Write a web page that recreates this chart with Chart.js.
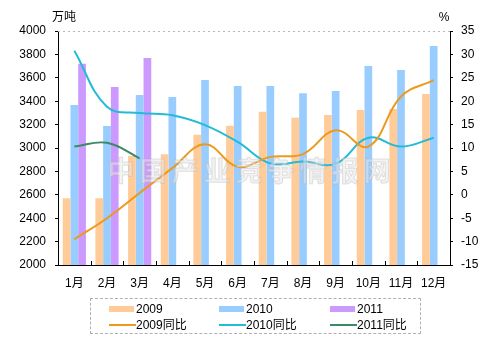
<!DOCTYPE html>
<html>
<head>
<meta charset="utf-8">
<script src="https://cdn.jsdelivr.net/npm/chart.js@4"></script>
<style>
html,body{margin:0;padding:0;background:#fff;}
#wrap{position:relative;width:498px;height:345px;}
#legend{position:absolute;left:90px;top:298px;width:331px;height:36px;border:1px dashed #b0b0b0;box-sizing:border-box;font:12px "Liberation Sans","Noto Sans CJK SC",sans-serif;color:#000;}
.item{position:absolute;height:14px;line-height:14px;white-space:nowrap;}
.sw{position:absolute;left:0;}
.txt{position:absolute;top:0;}
</style>
</head>
<body>
<div id="wrap">
<canvas id="c" width="498" height="345"></canvas>
<div id="legend"></div>
</div>
<script>
const months = ['1月','2月','3月','4月','5月','6月','7月','8月','9月','10月','11月','12月'];
const output2009 = [2570,2570,2932,2946,3114,3191,3310,3259,3282,3325,3333,3462];
const output2010 = [3368,3188,3453,3436,3581,3530,3530,3467,3487,3701,3667,3872];
const output2011 = [3721,3521,3769,null,null,null,null,null,null,null,null,null];
const yoy2009 = [-9.5,-5.0,0.4,5.7,10.8,6.0,8.1,8.7,13.8,10.3,21.0,24.5];
const yoy2010 = [30.8,18.8,17.5,17.0,14.9,11.3,6.7,7.1,6.6,12.2,10.3,12.2];
const yoy2011 = [10.3,11.1,7.8,null,null,null,null,null,null,null,null,null];
const leftTitle = '万吨';
const rightTitle = '%';
const watermark = '中国产业竞争情报网';

const FONT = '"Liberation Sans","Noto Sans CJK SC",sans-serif';

const extras = {
  id: 'extras',
  beforeDatasetsDraw(chart) {
    const {ctx, chartArea: a, scales} = chart;
    ctx.save();
    ctx.strokeStyle = '#b8b8b8';
    ctx.lineWidth = 1;
    ctx.setLineDash([2, 3]);
    ctx.beginPath();
    ctx.moveTo(a.left, a.top + 0.5);
    ctx.lineTo(a.right, a.top + 0.5);
    ctx.stroke();
    ctx.setLineDash([]);
    const x = scales.x;
    ctx.strokeStyle = '#000';
    const n = months.length;
    for (let i = 1; i < n; i++) {
      const px = Math.round((x.getPixelForValue(i - 1) + x.getPixelForValue(i)) / 2) + 0.5;
      ctx.beginPath();
      ctx.moveTo(px, a.bottom);
      ctx.lineTo(px, a.bottom - 4);
      ctx.stroke();
    }
    ctx.fillStyle = '#000';
    ctx.font = '12px ' + FONT;
    ctx.textAlign = 'center';
    ctx.textBaseline = 'middle';
    ctx.fillText(leftTitle, a.left + 6, a.top - 13);
    ctx.fillText(rightTitle, a.right - 6, a.top - 13);
    ctx.restore();
  },
  afterDatasetsDraw(chart) {
    const {ctx, chartArea: a} = chart;
    ctx.save();
    ctx.font = 'bold 27px "Noto Sans CJK SC",sans-serif';
    ctx.textAlign = 'center';
    ctx.textBaseline = 'middle';
    const chars = Array.from(watermark);
    const step = 32;
    const cx = (a.left + a.right) / 2 - 5;
    const cy = 171;
    chars.forEach((ch, i) => {
      const px = cx + (i - (chars.length - 1) / 2) * step;
      ctx.fillStyle = 'rgba(232,232,232,0.5)';
      ctx.fillText(ch, px, cy);
      ctx.strokeStyle = 'rgba(175,175,175,0.35)';
      ctx.lineWidth = 1;
      ctx.strokeText(ch, px, cy);
    });
    ctx.restore();
  }
};

const datasets = [
  {type:'bar', label:'2009', data:output2009, backgroundColor:'#FFCC99', yAxisID:'y', order:2},
  {type:'bar', label:'2010', data:output2010, backgroundColor:'#99CCFF', yAxisID:'y', order:2},
  {type:'bar', label:'2011', data:output2011, backgroundColor:'#CC99FF', yAxisID:'y', order:2},
  {type:'line', label:'2009同比', data:yoy2009, borderColor:'#EB9A1E', backgroundColor:'#EB9A1E', yAxisID:'y1', order:1, borderWidth:2, tension:0.4, pointRadius:0, fill:false},
  {type:'line', label:'2010同比', data:yoy2010, borderColor:'#22BBD8', backgroundColor:'#22BBD8', yAxisID:'y1', order:1, borderWidth:2, tension:0.4, pointRadius:0, fill:false},
  {type:'line', label:'2011同比', data:yoy2011, borderColor:'#3A8A64', backgroundColor:'#3A8A64', yAxisID:'y1', order:1, borderWidth:2, tension:0.4, pointRadius:0, fill:false}
];

const chart = new Chart(document.getElementById('c'), {
  data: {labels: months, datasets},
  options: {
    responsive: false,
    animation: false,
    devicePixelRatio: 1,
    layout: {padding: {top: 31, left: 0, right: 0, bottom: 0}},
    datasets: {bar: {categoryPercentage: 0.71, barPercentage: 1.0}},
    plugins: {legend: {display: false}, tooltip: {enabled: false}},
    scales: {
      x: {
        offset: true,
        grid: {display: false, drawTicks: false},
        border: {display: true, color: '#000', width: 1},
        ticks: {font: {size: 12, family: FONT}, color: '#000', padding: 11, maxRotation: 0, autoSkip: false},
        afterFit(s) { s.height = 80; }
      },
      y: {
        position: 'left',
        min: 2000, max: 4000,
        ticks: {stepSize: 200, font: {size: 12, family: FONT}, color: '#000', padding: 9, callback: v => String(v)},
        grid: {drawOnChartArea: false, drawTicks: true, tickLength: 3, tickColor: '#000'},
        border: {display: true, color: '#000', width: 1},
        afterFit(s) { s.width = 58; }
      },
      y1: {
        position: 'right',
        min: -15, max: 35,
        ticks: {stepSize: 5, font: {size: 12, family: FONT}, color: '#000', padding: 8, callback: v => String(v)},
        grid: {drawOnChartArea: false, drawTicks: true, tickLength: 3, tickColor: '#000'},
        border: {display: true, color: '#000', width: 1},
        afterFit(s) { s.width = 48; }
      }
    }
  },
  plugins: [extras]
});

const legend = document.getElementById('legend');
const colLeft = [18, 128, 239];
datasets.forEach((ds, i) => {
  const col = i % 3, row = Math.floor(i / 3);
  const item = document.createElement('div');
  item.className = 'item';
  item.style.left = colLeft[col] + 'px';
  item.style.top = (row === 0 ? 3 : 19) + 'px';
  const sw = document.createElement('span');
  sw.className = 'sw';
  if (ds.type === 'bar') {
    sw.style.top = '4px'; sw.style.width = '25px'; sw.style.height = '6px';
    sw.style.background = ds.backgroundColor;
  } else {
    sw.style.top = '6px'; sw.style.width = '27px'; sw.style.height = '2px';
    sw.style.background = ds.borderColor;
  }
  const t = document.createElement('span');
  t.className = 'txt';
  t.style.left = '27px';
  t.textContent = ds.label;
  item.appendChild(sw); item.appendChild(t);
  legend.appendChild(item);
});
</script>
</body>
</html>
